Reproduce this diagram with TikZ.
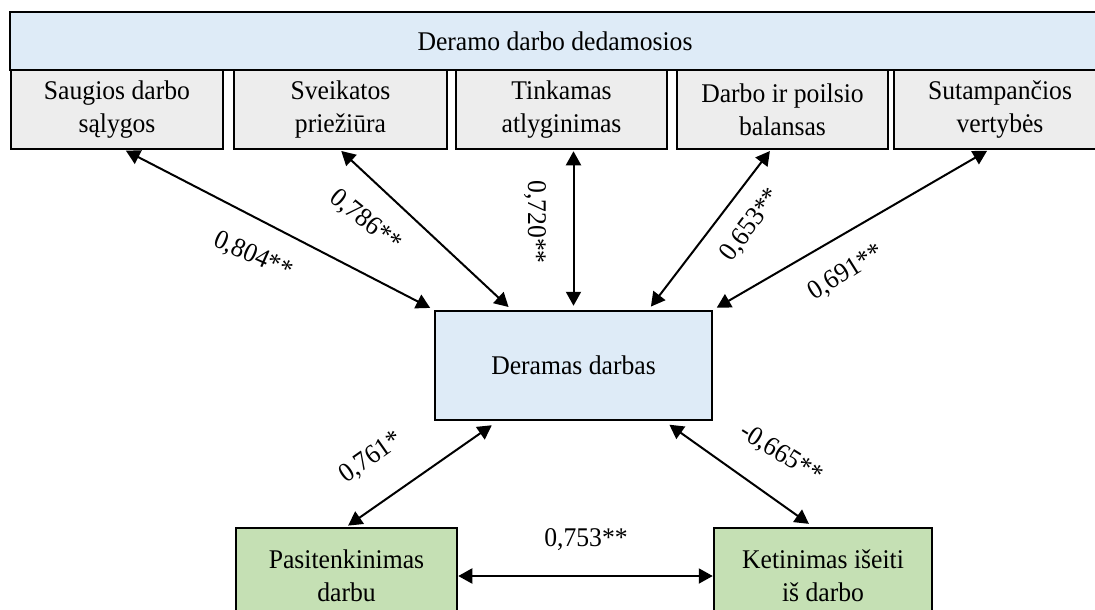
\documentclass[tikz,border=0pt]{standalone}
\usepackage{fontspec}
\setmainfont[FakeStretch=0.95]{Liberation Serif}
\usepackage{tikz}
\usetikzlibrary{arrows.meta, positioning}
\definecolor{hdrblue}{RGB}{222, 235, 247}
\definecolor{boxgray}{RGB}{237, 237, 237}
\definecolor{boxgreen}{RGB}{197, 224, 180}

\tikzset{
  box/.style={draw, line width=2.5pt, align=center, inner sep=0pt, font=\fontsize{27}{33}\selectfont},
  dimbox/.style={box, fill=boxgray, minimum height=79pt},
  link/.style={{Triangle[length=14pt,width=15pt]}-{Triangle[length=14pt,width=15pt]}, line width=2pt, shorten <=1pt, shorten >=4pt},
  coef/.style={font=\fontsize{27}{30}\selectfont, inner sep=0pt}
}

\begin{document}
\begin{tikzpicture}[x=1pt, y=-1pt]
\useasboundingbox (0,0) rectangle (1095,610);

% Header
\node[box, fill=hdrblue, minimum width=1090pt, minimum height=58pt] (hdr) at (555,41) {Deramo darbo dedamosios};

% Components
\node[dimbox, minimum width=212pt] (s1) at (117,109.5) {Saugios darbo\\sąlygos};
\node[dimbox, minimum width=213pt] (s2) at (340.5,109.5) {Sveikatos\\priežiūra};
\node[dimbox, minimum width=211pt] (s3) at (561.5,109.5) {Tinkamas\\atlyginimas};
\node[dimbox, minimum width=211pt] (s4) at (782.5,109.5) {Darbo ir poilsio\\balansas};
\node[dimbox, minimum width=212pt] (s5) at (1000,109.5) {Sutampančios\\vertybės};

% Central box
\node[box, fill=hdrblue, minimum width=277pt, minimum height=109pt] (dd) at (573.5,365.5) {Deramas darbas};

% Outcomes
\node[box, fill=boxgreen, minimum width=221pt, minimum height=96pt] (sat) at (346.5,576) {Pasitenkinimas\\darbu};
\node[box, fill=boxgreen, minimum width=218pt, minimum height=96pt] (quit) at (823,576) {Ketinimas išeiti\\iš darbo};

% Links
\draw[link] ([xshift=8pt]s1.south) -- (dd.north west);
\draw[link] (s2.south) -- ([xshift=-62pt]dd.north);
\draw[link] (s3.south -| dd.north) -- (dd.north);
\draw[link] ([xshift=-12pt]s4.south) -- ([xshift=75pt]dd.north);
\draw[link] ([xshift=-12pt]s5.south) -- (dd.north east);
\draw[link, shorten <=7pt, shorten >=2pt] ([xshift=-76pt]dd.south) -- (sat.north);
\draw[link, shorten <=6pt, shorten >=5pt] ([xshift=91pt]dd.south) -- ([xshift=-10pt]quit.north);
\draw[link, shorten <=0pt, shorten >=0pt] (sat.east) -- (quit.west);

% Coefficients
\node[coef, rotate=-24] (c1) at (253,256) {0,804**};
\node[coef, rotate=-39] (c2) at (365,221) {0,786**};
\node[coef, rotate=-90] (c3) at (535,222) {0,720**};
\node[coef, rotate=53] (c4) at (751,225) {0,653**};
\node[coef, rotate=32] (c5) at (846,273) {0,691**};
\node[coef, rotate=35] (c6) at (371,458) {0,761*};
\node[coef, rotate=-32] (c7) at (781,454) {-0,665**};
\node[coef] (c8) at (586,540) {0,753**};
\end{tikzpicture}
\end{document}
